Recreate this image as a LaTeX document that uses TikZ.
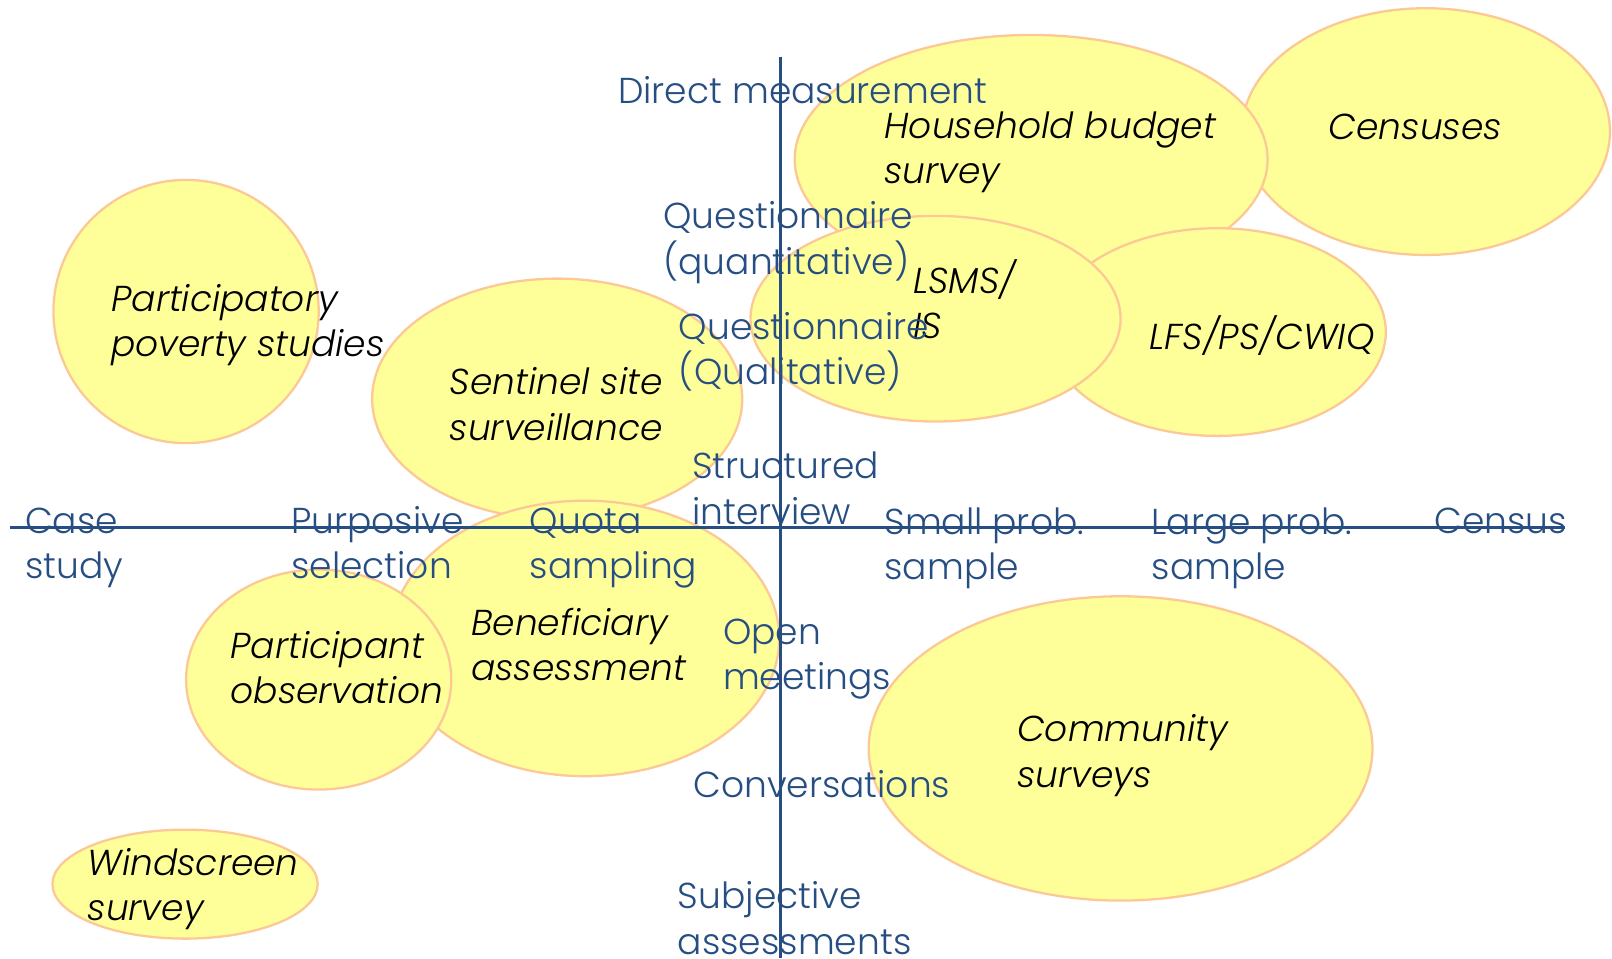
\documentclass[tikz,border=0pt]{standalone}
\usepackage{fontspec}
\setmainfont{Poppins}[UprightFont=* Light, ItalicFont=* Light Italic]
\usepackage{tikz}
\usetikzlibrary{shapes.geometric}
\definecolor{axisblue}{RGB}{38,78,130}
\definecolor{blobfill}{RGB}{255,255,153}
\definecolor{blobline}{RGB}{252,200,150}

\begin{document}
\begin{tikzpicture}[
      x=0.020561cm, y=-0.020561cm,
      blob/.style={fill=blobfill, draw=blobline, line width=1.3pt},
      axis/.style={draw=axisblue, line width=2pt},
      dim/.style={text=axisblue, anchor=west, align=left, inner sep=0pt,
        font=\fontsize{20.5}{25.7}\selectfont},
      item/.style={text=black, anchor=west, align=left, inner sep=0pt,
        font=\fontsize{20.5}{25.7}\selectfont\itshape},
    ]
      \useasboundingbox (0,0) rectangle (1568,932);
      \draw[blob] (1387,128) ellipse (179 and 120);
      \node[inner sep=0pt] (1) at (1387,128) {};
      \draw[blob] (1003,155) ellipse (230 and 121);
      \node[inner sep=0pt] (2) at (1003,155) {};
      \draw[blob] (1184,323) ellipse (164 and 101);
      \node[inner sep=0pt] (3) at (1184,323) {};
      \draw[blob] (910,310) ellipse (180 and 100);
      \node[inner sep=0pt] (4) at (910,310) {};
      \draw[blob] (181,303) ellipse (129 and 128);
      \node[inner sep=0pt] (5) at (181,303) {};
      \draw[blob] (542,388) ellipse (180 and 117);
      \node[inner sep=0pt] (6) at (542,388) {};
      \draw[blob] (569,621) ellipse (189 and 134);
      \node[inner sep=0pt] (7) at (569,621) {};
      \draw[blob] (310,661) ellipse (129 and 107);
      \node[inner sep=0pt] (8) at (310,661) {};
      \draw[blob] (180,860) ellipse (129 and 53);
      \node[inner sep=0pt] (9) at (180,860) {};
      \draw[blob] (1090,728) ellipse (245 and 148);
      \node[inner sep=0pt] (10) at (1090,728) {};
      % axes
      \coordinate (w) at (10,513);
      \coordinate (e) at (1522,513);
      \coordinate (n) at (759,55);
      \coordinate (s) at (759,932);
      \draw[axis] (w) -- (e);
      \draw[axis] (n) -- (s);
      % survey types
      \node[item] (11) at (860,148) {Household budget\\survey};
      \node[item] (12) at (1292,123) {Censuses};
      \node[item] (13) at (888,291) {LSMS/\\IS};
      \node[item] (14) at (1118,326) {LFS/PS/CWIQ};
      \node[item] (15) at (108,316) {Participatory\\poverty studies};
      \node[item, anchor=center, align=center] (16) at (541,393) {Sentinel site\\surveillance};
      \node[item] (17) at (458,627) {Beneficiary\\assessment};
      \node[item] (18) at (224,649) {Participant\\observation};
      \node[item] (19) at (85,865) {Windscreen\\survey};
      \node[item] (20) at (989,735) {Community\\surveys};
      % axis labels
      \node[dim] (21) at (601,88) {Direct measurement};
      \node[dim] (22) at (645,236) {Questionnaire\\(quantitative)};
      \node[dim] (23) at (660,342) {Questionnaire\\(Qualitative)};
      \node[dim] (24) at (673,475) {Structured\\interview};
      \node[dim] (25) at (24,533) {Case\\study};
      \node[dim] (26) at (283,528) {Purposive\\selection};
      \node[dim] (27) at (515,533) {Quota\\sampling};
      \node[dim] (28) at (860,533) {Small prob.\\sample};
      \node[dim] (29) at (1120,533) {Large prob.\\sample};
      \node[dim] (30) at (1395,507) {Census};
      \node[dim] (31) at (703,641) {Open\\meetings};
      \node[dim] (32) at (674,763) {Conversations};
      \node[dim] (33) at (659,893) {Subjective\\assessments};
    \end{tikzpicture}
\end{document}
